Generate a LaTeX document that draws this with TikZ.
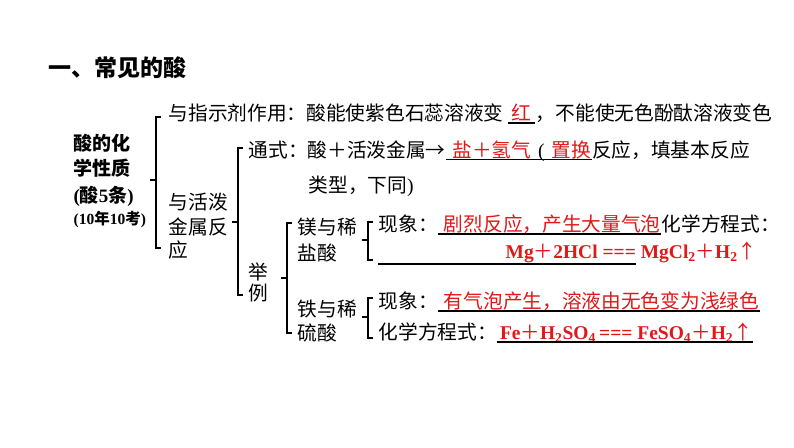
\documentclass[tikz,border=0pt]{standalone}
\usepackage{fontspec}
\setmainfont{Liberation Serif}
\newfontfamily\cjk{Noto Sans CJK SC}
\usetikzlibrary{positioning}
\definecolor{ansred}{HTML}{E01818}
\newcommand\jia{{\cjk\mdseries ＋}}
\newcommand\sheng{{\cjk\mdseries ↑}}
\tikzset{
  every picture/.style={line width=1.2pt},
  txt/.style={anchor=base west, inner sep=0pt, font=\cjk\fontsize{19.7}{24}\selectfont},
  blank/.style={txt, text=ansred},
  chem/.style={txt, text=ansred, font=\fontsize{19.5}{24}\selectfont\bfseries},
  brk/.style={draw=black, line width=1.2pt},
  uline/.style={draw=black, line width=1.1pt},
}

\begin{document}
\begin{tikzpicture}[x=1pt, y=-1pt,
  title/.style={txt, font=\cjk\fontsize{23}{28}\selectfont\bfseries},
  key/.style={txt, font=\cjk\fontsize{19}{24}\selectfont\bfseries}]
  \useasboundingbox (0,0) rectangle (794,447);
  \node[title] (ttl) at (48,76) {一、常见的酸};
  % left block
  \node[key] (k1) at (73,150) {酸的化};
  \node[key] (k2) at (73,175) {学性质};
  \node[key] (k3) at (73,202) {{\rmfamily(}酸{\rmfamily 5}条{\rmfamily)}};
  \node[key, font=\cjk\fontsize{15.5}{18}\selectfont\bfseries] (k4) at (73,224) {{\rmfamily(10}年{\rmfamily 10}考{\rmfamily)}};
  % indicator
  \node[txt] (zs) at (168,120.5) {与指示剂作用：酸能使紫色石蕊溶液变};
  \node[blank, base right=0pt of zs, xshift=4pt, minimum width=26pt] (a1) {红};
  \node[txt, base right=0pt of a1] (zs2) {，不能使无色酚酞溶液变色};
  % active metals
  \node[txt] (hp1) at (168,209) {与活泼};
  \node[txt] (hp2) at (168,234) {金属反};
  \node[txt] (hp3) at (168,257) {应};
  \node[txt] (tsh) at (248,157) {通式：酸＋活泼金属→};
  \node[blank, base right=0pt of tsh, minimum width=90pt] (a2) {盐＋氢气};
  \node[blank, base right=0pt of a2] (a3) {\textcolor{black}{\rmfamily(}\hspace{7pt}置换\hspace{3pt}};
  \node[txt, base right=0pt of a3] (fy) {反应，填基本反应};
  \node[txt] (lx) at (308,192) {类型，下同{\rmfamily)}};
  \node[txt] (ju) at (248,279) {举};
  \node[txt] (li) at (248,300) {例};
  % magnesium
  \node[txt] (mg1) at (297,234.5) {镁与稀};
  \node[txt] (mg2) at (297,260.5) {盐酸};
  \node[txt] (xx1) at (378,231.5) {现象：};
  \node[blank, base right=0pt of xx1] (a4) {\hspace{5pt}剧烈反应，产生大量气泡\hspace{6pt}};
  \node[txt, base right=0pt of a4] (fc1) {化学方程式：};
  \node[txt, minimum width=257pt] (a5) at (378,261.5) {};
  \node[chem] (f1) at (505,258) {Mg\jia 2HCl === MgCl\textsubscript{2}\jia H\textsubscript{2}\sheng};
  % iron
  \node[txt] (fe1) at (297,316.5) {铁与稀};
  \node[txt] (fe2) at (297,340.5) {硫酸};
  \node[txt] (xx2) at (378,308.5) {现象：};
  \node[blank, base right=0pt of xx2] (a6) {\hspace{5pt}有气泡产生，溶液由无色变为浅绿色\hspace{8pt}};
  \node[txt] (fc2) at (378,339.5) {化学方程式：};
  \node[chem, base right=0pt of fc2, minimum width=248pt, align=left] (a7) {\hspace{2pt}Fe\jia H\textsubscript{2}SO\textsubscript{4}\,=== FeSO\textsubscript{4}\jia H\textsubscript{2}\sheng\hfill};
  \foreach \b in {a1, a2, a3, a4, a5, a6, a7}
    \draw[uline] ([yshift=-2.5pt]\b.base west) -- ([yshift=-2.5pt]\b.base east);
  % brackets: x / top / bottom / middle
  \foreach \x/\t/\b/\m in {156/117/248/180, 238/148/295/222, 287/223/333/278, 368/222/260/240, 368/298/338/317}
    \draw[brk] (\x+5,\t) -- (\x,\t) -- (\x,\b) -- (\x+5,\b) (\x,\m) -- (\x-6,\m);
\end{tikzpicture}
\end{document}
